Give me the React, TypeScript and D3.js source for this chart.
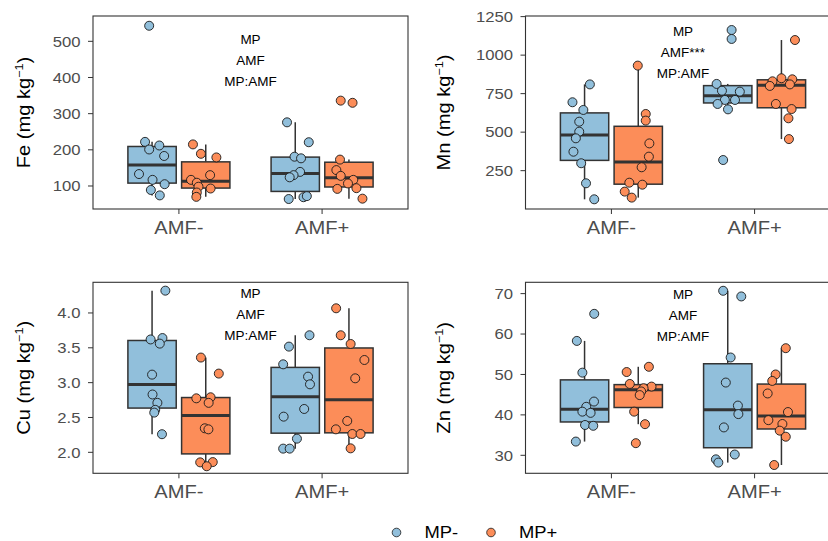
import React from "react";
import * as d3 from "d3";

// ---------- data ----------
const categories = ["AMF-", "AMF+"];
const groups = ["MP-", "MP+"];
const groupColors = ["#91BFDB", "#FC8D59"];
const annotLines = ["MP", "AMF", "MP:AMF"];
const annotLinesMn = ["MP", "AMF***", "MP:AMF"];

// Fe (mg kg-1)
const feTicks = [100, 200, 300, 400, 500];
const feDomain = [36.4, 570];
const feAnnotY = 448;
const feAmfMinusMpMinus = [543, 222, 212, 201, 183, 133, 117, 105, 89, 74];
const feAmfMinusMpMinusJit = [-0.12, -0.29, 0.3, -0.12, 0.5, -0.54, 0.02, 0.52, -0.05, 0.32];
const feAmfMinusMpPlus = [215, 189, 179, 130, 117, 109, 98, 82, 93, 70];
const feAmfMinusMpPlusJit = [-0.53, -0.2, 0.44, 0.18, -0.61, -0.37, -0.3, -0.37, 0.2, -0.39];
const feAmfPlusMpMinus = [276, 221, 181, 176.5, 139, 130, 124, 64, 69, 72];
const feAmfPlusMpMinusJit = [-0.34, 0.56, -0.03, 0.24, 0.2, -0.07, -0.23, -0.27, 0.34, 0.48];
const feAmfPlusMpPlus = [336, 330, 173, 144, 128, 117, 107, 92, 94, 65];
const feAmfPlusMpPlusJit = [-0.34, 0.15, -0.37, -0.52, -0.34, 0.18, -0.04, -0.48, 0.31, 0.56];

// Mn (mg kg-1)
const mnTicks = [250, 500, 750, 1000, 1250];
const mnDomain = [1.1, 1254];
const mnAnnotY = 1019;
const mnAmfMinusMpMinus = [810, 694, 644, 568, 503, 460, 373, 298, 168, 64];
const mnAmfMinusMpMinusJit = [0.22, -0.5, -0.05, -0.22, -0.22, -0.36, -0.46, -0.14, 0.06, 0.4];
const mnAmfMinusMpPlus = [932, 618, 575, 427, 341, 272, 172, 159, 114, 75];
const mnAmfMinusMpPlusJit = [-0.02, 0.31, 0.31, 0.46, 0.44, 0.14, -0.37, 0.17, -0.56, -0.27];
const mnAmfPlusMpMinus = [1163, 1105, 813, 769, 763, 709, 709, 683, 648, 319];
const mnAmfPlusMpMinusJit = [0.16, 0.16, -0.46, -0.24, 0.5, -0.12, 0.3, -0.42, 0.01, -0.19];
const mnAmfPlusMpPlus = [1098, 850, 843, 830, 810, 800, 683, 650, 590, 455];
const mnAmfPlusMpPlusJit = [0.56, 0.0, 0.45, -0.37, 0.35, -0.48, -0.23, 0.42, 0.29, 0.31];

// Cu (mg kg-1)
const cuTicks = [2.0, 2.5, 3.0, 3.5, 4.0];
const cuDomain = [1.699, 4.44];
const cuAnnotY = 3.985;
const cuAmfMinusMpMinus = [4.32, 3.62, 3.64, 3.56, 3.115, 2.83, 2.71, 2.61, 2.57, 2.26];
const cuAmfMinusMpMinusJit = [0.55, -0.06, 0.43, 0.32, 0.0, 0.02, 0.22, 0.13, 0.09, 0.41];
const cuAmfMinusMpPlus = [3.36, 3.13, 2.775, 2.79, 2.71, 2.345, 2.33, 1.856, 1.86, 1.8];
const cuAmfMinusMpPlusJit = [-0.2, 0.54, -0.39, 0.2, 0.12, -0.04, 0.11, -0.23, 0.29, 0.04];
const cuAmfPlusMpMinus = [3.517, 3.68, 3.263, 3.086, 2.976, 2.622, 2.512, 2.196, 2.053, 2.053];
const cuAmfPlusMpMinusJit = [-0.26, 0.59, -0.5, 0.53, 0.61, 0.37, -0.48, 0.07, -0.5, -0.23];
const cuAmfPlusMpPlus = [4.067, 3.68, 3.555, 3.325, 3.062, 2.45, 2.33, 2.263, 2.263, 2.057];
const cuAmfPlusMpPlusJit = [-0.53, -0.34, 0.07, 0.64, 0.26, -0.07, -0.54, 0.14, 0.48, 0.07];

// Zn (mg kg-1)
const znTicks = [30, 40, 50, 60, 70];
const znDomain = [25.55, 72.8];
const znAnnotY = 64.7;
const znAmfMinusMpMinus = [65, 58.3, 50.45, 43.3, 42.0, 40.8, 40.5, 37.5, 37.3, 33.4];
const znAmfMinusMpMinusJit = [0.4, -0.32, -0.09, 0.39, 0.07, -0.09, 0.25, 0.02, 0.36, -0.36];
const znAmfMinusMpPlus = [50.6, 51.9, 47.65, 47.0, 46.6, 45.8, 44.9, 40.8, 37.7, 33.0];
const znAmfMinusMpPlusJit = [-0.48, 0.44, -0.35, 0.55, 0.22, 0.12, 0.06, -0.17, 0.28, -0.1];
const znAmfPlusMpMinus = [70.7, 69.3, 54.2, 48.0, 42.3, 40.2, 36.9, 30.2, 29.0, 28.2];
const znAmfPlusMpMinusJit = [-0.19, 0.56, 0.12, -0.08, 0.42, 0.44, -0.16, 0.29, -0.49, -0.39];
const znAmfPlusMpPlus = [56.5, 50.0, 48.4, 45.3, 40.7, 38.7, 37.75, 36.1, 34.6, 27.6];
const znAmfPlusMpPlusJit = [0.18, -0.24, -0.38, -0.57, 0.27, -0.54, 0.04, -0.07, 0.18, -0.3];

// ---------- helpers ----------
type Series = { cat: number; grp: number; values: number[]; jitter: number[] };
type Spec = {
  element: string;
  ticks: number[];
  tickFmt: (v: number) => string;
  domain: number[];
  annotY: number;
  annot: string[];
  series: Series[];
};

const mk = (cat: number, grp: number, values: number[], jitter: number[]): Series => ({ cat, grp, values, jitter });

const specs: Spec[] = [
  {
    element: "Fe", ticks: feTicks, tickFmt: d3.format("d"), domain: feDomain, annotY: feAnnotY, annot: annotLines,
    series: [
      mk(0, 0, feAmfMinusMpMinus, feAmfMinusMpMinusJit), mk(0, 1, feAmfMinusMpPlus, feAmfMinusMpPlusJit),
      mk(1, 0, feAmfPlusMpMinus, feAmfPlusMpMinusJit), mk(1, 1, feAmfPlusMpPlus, feAmfPlusMpPlusJit),
    ],
  },
  {
    element: "Mn", ticks: mnTicks, tickFmt: d3.format("d"), domain: mnDomain, annotY: mnAnnotY, annot: annotLinesMn,
    series: [
      mk(0, 0, mnAmfMinusMpMinus, mnAmfMinusMpMinusJit), mk(0, 1, mnAmfMinusMpPlus, mnAmfMinusMpPlusJit),
      mk(1, 0, mnAmfPlusMpMinus, mnAmfPlusMpMinusJit), mk(1, 1, mnAmfPlusMpPlus, mnAmfPlusMpPlusJit),
    ],
  },
  {
    element: "Cu", ticks: cuTicks, tickFmt: d3.format(".1f"), domain: cuDomain, annotY: cuAnnotY, annot: annotLines,
    series: [
      mk(0, 0, cuAmfMinusMpMinus, cuAmfMinusMpMinusJit), mk(0, 1, cuAmfMinusMpPlus, cuAmfMinusMpPlusJit),
      mk(1, 0, cuAmfPlusMpMinus, cuAmfPlusMpMinusJit), mk(1, 1, cuAmfPlusMpPlus, cuAmfPlusMpPlusJit),
    ],
  },
  {
    element: "Zn", ticks: znTicks, tickFmt: d3.format("d"), domain: znDomain, annotY: znAnnotY, annot: annotLines,
    series: [
      mk(0, 0, znAmfMinusMpMinus, znAmfMinusMpMinusJit), mk(0, 1, znAmfMinusMpPlus, znAmfMinusMpPlusJit),
      mk(1, 0, znAmfPlusMpMinus, znAmfPlusMpMinusJit), mk(1, 1, znAmfPlusMpPlus, znAmfPlusMpPlusJit),
    ],
  },
];

function boxStats(vals: number[]) {
  const s = [...vals].sort(d3.ascending);
  const q1 = d3.quantile(s, 0.25) as number;
  const med = d3.quantile(s, 0.5) as number;
  const q3 = d3.quantile(s, 0.75) as number;
  const iqr = q3 - q1;
  const hi = d3.max(s.filter((v) => v <= q3 + 1.5 * iqr)) as number;
  const lo = d3.min(s.filter((v) => v >= q1 - 1.5 * iqr)) as number;
  return { q1, med, q3, lo, hi };
}

const FONT = "'Liberation Sans', Arial, sans-serif";
const SX = 1.15;
const DARK = "#333333";
const TICKCOL = "#4D4D4D";

function SText(props: {
  x: number; y: number; size: number; anchor?: string; fill?: string; rotate?: number; sx?: number;
  children: React.ReactNode; dy?: string;
}) {
  const { x, y, size, anchor = "start", fill = "#000", rotate, sx = SX, children, dy } = props;
  const t = `translate(${x},${y})${rotate ? ` rotate(${rotate})` : ""} scale(${sx},1)`;
  return (
    <text transform={t} fontSize={size} fontFamily={FONT} textAnchor={anchor} fill={fill} dy={dy}>
      {children}
    </text>
  );
}

function Panel({ spec, x0, x1, y0, y1, titleX }: { spec: Spec; x0: number; x1: number; y0: number; y1: number; titleX: number }) {
  const x = d3.scalePoint<string>().domain(categories).range([x0, x1]).padding(0.6);
  const step = x.step();
  const y = d3.scaleLinear().domain(spec.domain).range([y1, y0]);
  const bw = step * 0.3375;
  const off = step * 0.1875;
  const cx = (s: Series) => (x(categories[s.cat]) as number) + (s.grp === 0 ? -off : off);
  const midX = (x0 + x1) / 2;
  const midY = (y0 + y1) / 2;
  const lineGap = 20.7;
  const annotCenter = y(spec.annotY);

  return (
    <g>
      {/* boxes */}
      {spec.series.map((s, i) => {
        const st = boxStats(s.values);
        const c = cx(s);
        return (
          <g key={"b" + i}>
            <line x1={c} x2={c} y1={y(st.q3)} y2={y(st.hi)} stroke={DARK} strokeWidth={1.5} />
            <line x1={c} x2={c} y1={y(st.q1)} y2={y(st.lo)} stroke={DARK} strokeWidth={1.5} />
            <rect x={c - bw / 2} y={y(st.q3)} width={bw} height={y(st.q1) - y(st.q3)}
              fill={groupColors[s.grp]} stroke={DARK} strokeWidth={1.5} />
            <line x1={c - bw / 2} x2={c + bw / 2} y1={y(st.med)} y2={y(st.med)} stroke={DARK} strokeWidth={3} />
          </g>
        );
      })}
      {/* jittered points */}
      {spec.series.map((s, i) => {
        const c = cx(s);
        return (
          <g key={"p" + i}>
            {s.values.map((v, j) => (
              <circle key={j} cx={c + s.jitter[j] * (bw / 2)} cy={y(v)} r={4.5}
                fill={groupColors[s.grp]} stroke="#1a1a1a" strokeWidth={0.9} />
            ))}
          </g>
        );
      })}
      {/* annotation */}
      {spec.annot.map((t, k) => (
        <text key={"a" + k} x={midX} y={annotCenter + (k - 1) * lineGap} dy="0.36em" textAnchor="middle"
          fontSize={13.5} fontFamily={FONT} fill="#000">{t}</text>
      ))}
      {/* border */}
      <rect x={x0} y={y0} width={x1 - x0} height={y1 - y0} fill="none" stroke={DARK} strokeWidth={1.1} />
      {/* y axis */}
      {spec.ticks.map((t) => (
        <g key={"yt" + t}>
          <line x1={x0 - 5} x2={x0} y1={y(t)} y2={y(t)} stroke={DARK} strokeWidth={1} />
          <SText x={x0 - 12.5} y={y(t)} size={14.5} anchor="end" fill={TICKCOL} dy="0.36em">{spec.tickFmt(t)}</SText>
        </g>
      ))}
      {/* x axis */}
      {categories.map((c) => (
        <g key={"xt" + c}>
          <line x1={x(c)} x2={x(c)} y1={y1} y2={y1 + 5} stroke={DARK} strokeWidth={1} />
          <SText x={x(c) as number} y={y1 + 24.5} size={17.5} anchor="middle" fill={TICKCOL}>{c}</SText>
        </g>
      ))}
      {/* y title */}
      <SText x={titleX} y={midY} size={17.5} anchor="middle" rotate={-90}>
        {spec.element} (mg kg<tspan fontSize={11} dy={-7}>−1</tspan><tspan dy={7}>)</tspan>
      </SText>
    </g>
  );
}

export default function App() {
  const left = { x0: 93, x1: 408, titleX: 29.5 };
  const right = { x0: 525.5, x1: 840.5, titleX: 450 };
  const top = { y0: 16, y1: 209 };
  const bottom = { y0: 282.3, y1: 473.3 };
  return (
    <svg width={828} height={541} style={{ position: "absolute", left: 0, top: 0, display: "block", background: "#fff" }}>
      <rect x={0} y={0} width={828} height={541} fill="#fff" />
      <Panel spec={specs[0]} {...left} {...top} />
      <Panel spec={specs[1]} {...right} {...top} />
      <Panel spec={specs[2]} {...left} {...bottom} />
      <Panel spec={specs[3]} {...right} {...bottom} />
      {/* legend */}
      {groups.map((g, i) => {
        const lx = i === 0 ? 396.5 : 491;
        return (
          <g key={g}>
            <circle cx={lx} cy={532.5} r={4.3} fill={groupColors[i]} stroke="#1a1a1a" strokeWidth={0.8} />
            <SText x={lx + 28} y={537.5} size={16}>{g}</SText>
          </g>
        );
      })}
    </svg>
  );
}
